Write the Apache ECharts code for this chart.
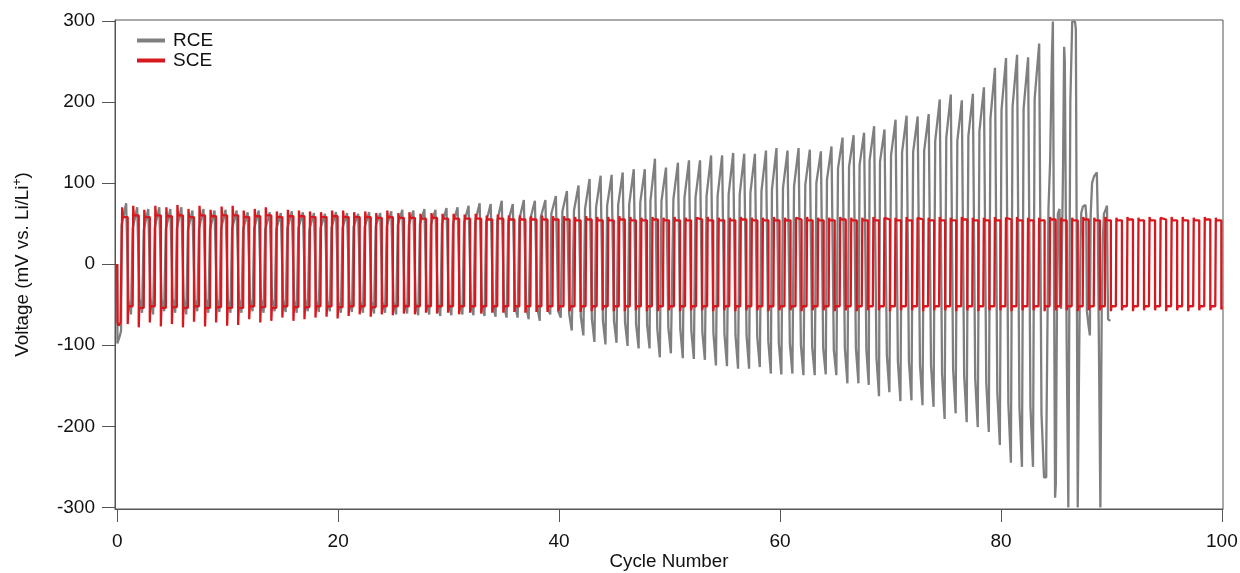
<!DOCTYPE html>
<html><head><meta charset="utf-8">
<script src="https://cdn.jsdelivr.net/npm/echarts@6/dist/echarts.min.js"></script>
<style>html,body{margin:0;padding:0;background:#fff}#c{width:1240px;height:573px}</style>
</head><body><div id="c"></div>
<script>
// ---------- data ----------
const xTicks = [0, 20, 40, 60, 80, 100];
const yTicks = [-300, -200, -100, 0, 100, 200, 300];
const seriesNames = ['RCE', 'SCE'];

// SCE: per-cycle values (mV); positive half starts at cycle+0.45, negative half at cycle+0.95
const sceHead = [[0, 0], [0.03, -72], [0.12, -76], [0.3, -72], [0.45, -70]];
const scePosPeak = [70,72,67,72,70,73,68,72,67,71, 72,66,68,70,65,67,66,65,64,66, 66,64,65,63,66,63,64,62,63,62,
  62,61,62,60,61,60,60,59,60,59, 59,58,59,58,58,59,58,57,58,57, 58,57,57,58,57,57,58,57,57,58,
  57,57,58,57,57,58,57,57,58,57, 57,58,57,57,58,57,58,57,57,58, 57,58,57,57,58,57,57,58,57,58,
  57,58,57,58,57,58,58,57,58,57];
const scePosPlat = [58,60,58,60,59,60,58,60,59,60, 60,58,59,60,58,59,59,58,58,59, 58,58,58,57,58,57,57,56,57,56,
  56,56,56,55,56,55,55,55,55,55, 55,54,55,54,54,55,54,54,55,54, 54,54,55,54,54,54,55,54,54,54,
  54,55,54,54,54,55,54,54,54,55, 54,54,55,54,54,54,55,54,54,54, 55,54,54,54,55,54,54,55,54,54,
  54,55,54,54,55,54,54,54,55,54];
const sceNegPeak = [-74,-78,-72,-77,-74,-78,-71,-77,-72,-76, -75,-68,-72,-70,-66,-70,-68,-66,-65,-67, -64,-62,-65,-62,-63,-61,-62,-60,-61,-60,
  -62,-60,-61,-60,-60,-59,-60,-59,-59,-58, -58,-59,-58,-57,-58,-58,-57,-58,-58,-57, -58,-57,-57,-58,-57,-58,-57,-57,-58,-57,
  -57,-58,-57,-57,-58,-57,-58,-57,-57,-58, -57,-57,-58,-57,-57,-58,-57,-58,-57,-57, -58,-57,-57,-58,-57,-57,-58,-57,-57,-58,
  -57,-58,-57,-57,-58,-57,-58,-57,-57,-56];
const sceNegPlat = [-52,-54,-52,-54,-53,-54,-52,-54,-53,-54, -54,-52,-53,-54,-52,-53,-53,-52,-52,-53, -52,-52,-53,-52,-52,-52,-52,-52,-52,-52,
  -52,-52,-52,-52,-52,-52,-52,-52,-52,-52, -52,-52,-52,-52,-52,-52,-52,-52,-52,-52, -52,-52,-52,-52,-52,-52,-52,-52,-52,-52,
  -52,-52,-52,-52,-52,-52,-52,-52,-52,-52, -52,-52,-52,-52,-52,-52,-52,-52,-52,-52, -52,-52,-52,-52,-52,-52,-52,-52,-52,-52,
  -52,-52,-52,-52,-52,-52,-52,-52,-52,-52];

// RCE: per-cycle values for cycles 0..83 (peak position in cycle, peak, rise shoulder, fall shoulder, trough)
const rceHead = [[0, 0], [0.02, -98], [0.08, -95], [0.25, -88], [0.35, -82]];
const rcePeakPhase = [0.95,0.95,0.95,0.95,0.95,0.95,0.95,0.95,0.95,0.95, 0.95,0.95,0.95,0.95,0.95,0.95,0.95,0.95,0.95,0.95,
  0.95,0.95,0.95,0.95,0.95,0.95,0.95,0.95,0.95,0.95, 0.95,0.95,0.95,0.95,0.95,0.95,0.95,0.95,0.9,0.85,
  0.85,0.9,0.9,0.9,0.9,0.9,0.9,0.9,0.82,0.82, 0.9,0.9,0.9,0.9,0.9,0.9,0.9,0.87,0.87,0.82,
  0.82,0.82,0.84,0.84,0.8,0.8,0.8,0.75,0.66,0.6, 0.6,0.6,0.6,0.6,0.6,0.6,0.6,0.6,0.6,0.6, 0.6,0.6,0.6,0.6];
const rcePeak = [75,70,68,70,68,70,66,68,66,67, 66,64,66,64,63,65,64,63,62,64, 63,62,64,63,65,67,66,68,67,69,
  70,72,75,74,78,74,79,78,79,84, 90,97,105,109,110,113,117,117,130,119, 125,128,128,134,134,137,136,136,140,143,
  140,143,141,139,145,156,159,162,170,166, 178,183,182,185,203,209,202,210,218,242, 254,258,255,272];
const rceRiseShoulder = [48,44,42,45,43,44,42,44,43,44, 44,43,44,43,43,44,44,43,44,45, 45,46,46,47,47,48,48,49,49,50,
  50,51,52,52,53,53,55,56,58,62, 65,66,68,70,72,73,74,76,78,78, 80,82,82,84,84,86,86,88,90,92,
  94,96,98,100,104,118,120,122,128,126, 134,138,138,140,152,156,152,158,164,180, 190,194,192,204];
const rceFallShoulder = [-44,-42,-43,-44,-42,-43,-44,-42,-43,-44, -43,-44,-43,-44,-44,-45,-44,-45,-45,-46, -45,-46,-46,-47,-47,-48,-48,-49,-49,-50,
  -50,-50,-51,-51,-52,-52,-53,-53,-55,-58, -62,-65,-68,-70,-70,-72,-74,-75,-80,-78, -80,-82,-84,-85,-86,-88,-88,-90,-95,-97,
  -98,-100,-102,-104,-106,-104,-104,-106,-115,-112, -120,-120,-124,-125,-135,-130,-138,-142,-146,-158, -172,-176,-176,-185];
const rceTrough = [-62,-60,-62,-58,-60,-62,-58,-60,-59,-60, -60,-58,-60,-58,-59,-60,-58,-59,-58,-60, -59,-60,-61,-60,-62,-61,-63,-62,-64,-63,
  -62,-63,-64,-65,-66,-66,-68,-70,-62,-66, -82,-88,-96,-99,-97,-101,-104,-104,-115,-110, -116,-117,-118,-125,-126,-129,-129,-127,-135,-136,
  -135,-137,-137,-136,-137,-147,-147,-149,-163,-158, -169,-168,-174,-176,-191,-184,-195,-201,-207,-223, -245,-250,-250,-263];
// RCE final, irregular cycles (cycle, mV)
const rceTail = [[84.1, -230], [84.22, -60], [84.3, 68], [84.45, 126], [84.6, 250], [84.7, 299], [84.78, 299],
  [84.9, -288], [84.97, -270], [85.02, -150], [85.07, -58], [85.15, 62], [85.3, 68], [85.36, -50], [85.45, -55],
  [85.62, 120], [85.72, 268], [85.78, 250], [85.95, -100], [86.1, -300], [86.17, -300], [86.28, 200], [86.45, 299],
  [86.7, 299], [86.78, 290], [86.95, -300], [87.05, -300], [87.12, -58], [87.2, 20], [87.27, 63], [87.42, 71],
  [87.65, 73], [87.72, 60], [87.78, -58], [87.92, -75], [88.05, -88], [88.12, 60], [88.25, 100], [88.42, 108],
  [88.68, 113], [88.76, 60], [88.86, -90], [89.0, -300], [89.06, -300], [89.12, -60], [89.22, 30], [89.32, 62],
  [89.5, 68], [89.6, 72], [89.65, -20], [89.7, -68], [89.9, -70]];

// ---------- build line data ----------
function buildSCE() {
  const pts = sceHead.slice();
  for (let k = 0; k < scePosPeak.length; k++) {
    const prev = k === 0 ? sceHead[sceHead.length - 1][1] : sceNegPlat[k - 1];
    pts.push([k + 0.45, prev]);
    pts.push([k + 0.45, scePosPeak[k]]);
    pts.push([k + 0.5, scePosPlat[k]]);
    pts.push([k + 0.95, scePosPlat[k]]);
    pts.push([k + 0.95, sceNegPeak[k]]);
    pts.push([k + 1.0, sceNegPlat[k]]);
    if (k < scePosPeak.length - 1) pts.push([k + 1.4, sceNegPlat[k]]);
  }
  return pts;
}
function buildRCE() {
  const pts = rceHead.slice();
  const n = rcePeak.length;
  let R = rceHead[rceHead.length - 1][0];
  for (let k = 0; k < n; k++) {
    const P = k + rcePeakPhase[k];
    const nextR = k < n - 1 ? k + 1 + rcePeakPhase[k + 1] - 0.6 : rceTail[0][0];
    pts.push([R + 0.05, rceRiseShoulder[k]]);
    pts.push([R + 0.2, rceRiseShoulder[k]]);
    pts.push([P - 0.14, rcePeak[k]]);
    pts.push([P, rcePeak[k]]);
    pts.push([P + 0.07, rceFallShoulder[k]]);
    pts.push([P + 0.14, rceFallShoulder[k]]);
    pts.push([Math.min(P + 0.3, nextR - 0.03), rceTrough[k]]);
    pts.push([nextR, rceTrough[k]]);
    R = nextR;
  }
  return pts.concat(rceTail);
}

const chart = echarts.init(document.getElementById('c'), null, {renderer: 'canvas'});
const FONT = 'Liberation Sans';
chart.setOption({
  animation: false,
  backgroundColor: '#fff',
  grid: {left: 115, right: 17, top: 20, bottom: 64, show: true, borderColor: '#555', borderWidth: 1,
         containLabel: false, outerBoundsMode: 'none'},
  legend: {
    left: 137, top: 31, orient: 'vertical', itemWidth: 28, itemHeight: 4, itemGap: 1, padding: 0,
    icon: 'rect', data: seriesNames,
    textStyle: {fontFamily: FONT, fontSize: 19, color: '#111', padding: [0, 0, 0, 3]}
  },
  xAxis: {
    type: 'value', min: -0.2, max: 100.1,
    name: 'Cycle Number', nameLocation: 'middle', nameGap: 43, nameMoveOverlap: false,
    nameTextStyle: {fontFamily: FONT, fontSize: 18.8, color: '#111'},
    axisLine: {show: true, onZero: false, lineStyle: {color: '#555', width: 1}},
    axisTick: {show: true, customValues: xTicks, length: 13, lineStyle: {color: '#555'}},
    axisLabel: {customValues: xTicks, margin: 23, fontFamily: FONT, fontSize: 19, color: '#111'},
    splitLine: {show: false}
  },
  yAxis: {
    type: 'value', min: -302, max: 301,
    name: '{a|Voltage (mV vs. Li/Li}{s|+}{a|)}', nameLocation: 'middle', nameGap: 81,
    nameTextStyle: {rich: {a: {fontFamily: FONT, fontSize: 18.8, color: '#111'},
                            s: {fontFamily: FONT, fontSize: 12, color: '#111', padding: [0, 0, 10, 0]}}},
    axisLine: {show: true, onZero: false, lineStyle: {color: '#555', width: 1}},
    axisTick: {show: true, customValues: yTicks, length: 13, lineStyle: {color: '#555'}},
    axisLabel: {customValues: yTicks, margin: 20, fontFamily: FONT, fontSize: 19, color: '#111'},
    splitLine: {show: false}
  },
  series: [
    {name: 'RCE', type: 'line', data: buildRCE(), showSymbol: false, symbol: 'none', z: 2,
     color: '#7f7f7f', lineStyle: {color: '#7f7f7f', width: 2.3}},
    {name: 'SCE', type: 'line', data: buildSCE(), showSymbol: false, symbol: 'none', z: 3,
     color: '#d7191f', lineStyle: {color: '#d7191f', width: 2.3}}
  ]
});
</script></body></html>
